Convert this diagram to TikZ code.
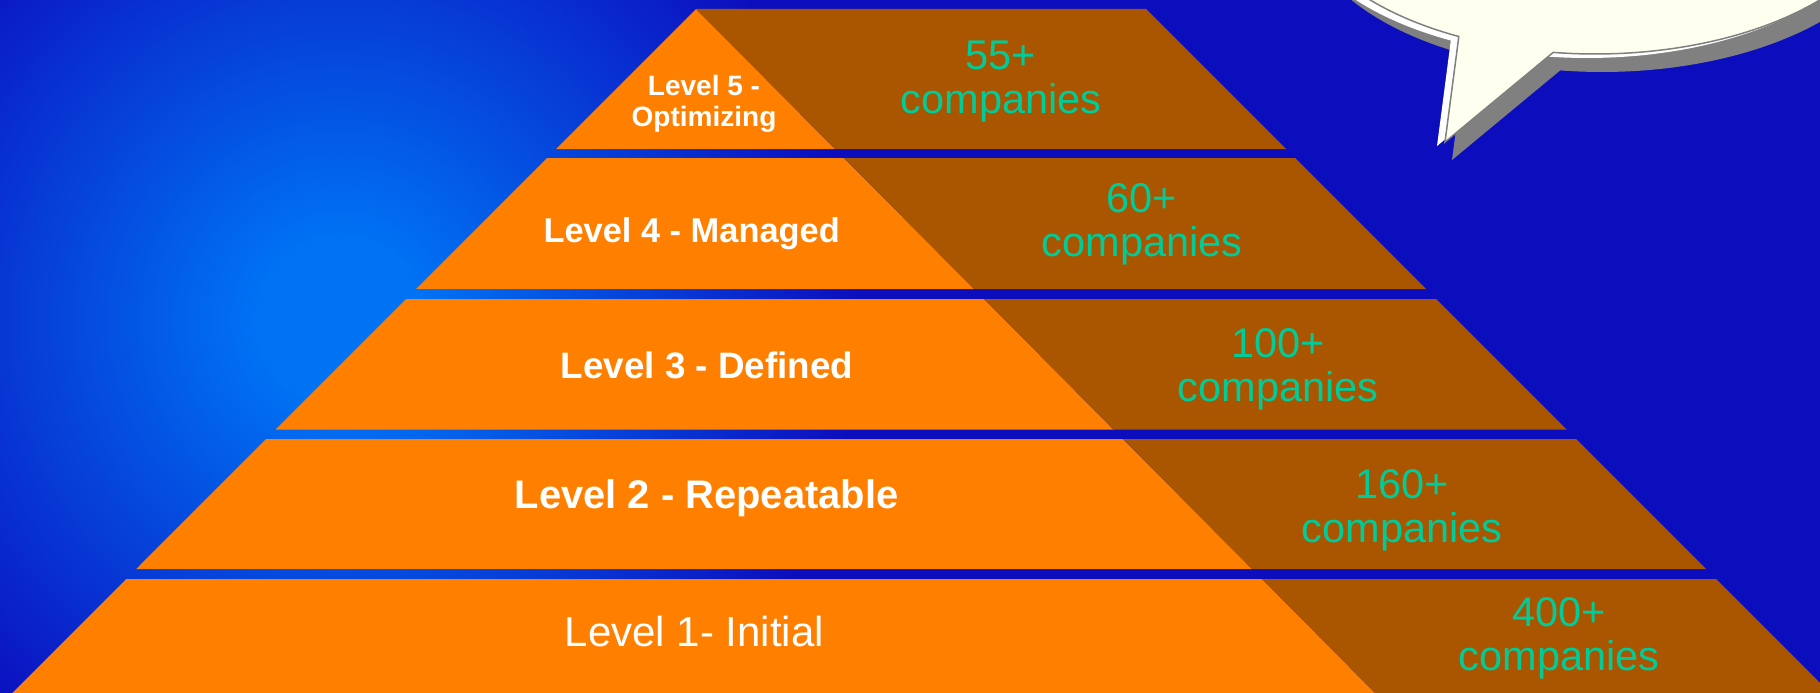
\documentclass[tikz,border=0pt]{standalone}
\usepackage{fontspec}
\setmainfont{Liberation Sans}
\definecolor{bgdark}{RGB}{12,14,190}
\definecolor{bgglow}{RGB}{0,114,244}
\definecolor{cmmorange}{RGB}{255,128,0}
\definecolor{cmmbrown}{RGB}{170,85,0}
\definecolor{cmmgreen}{RGB}{0,204,153}
\definecolor{bubblefill}{RGB}{255,255,240}
\definecolor{bubbleshadow}{RGB}{128,128,128}
% soft glow: full colour in the middle, fading to the dark blue at the rim
\pgfdeclareradialshading{glow}{\pgfpoint{0bp}{0bp}}{color(0bp)=(bgglow); color(4bp)=(bgglow); color(25bp)=(bgdark); color(50bp)=(bgdark)}
\begin{document}
\begin{tikzpicture}[x=1pt,y=-1pt,
  levellabel/.style={text=white, inner sep=0pt, align=center},
  countlabel/.style={text=cmmgreen, inner sep=0pt, align=center,
    font=\fontsize{41.5}{44}\selectfont},
  calloutshape/.style={insert path={(1458.8,36.6) -- (1445,142) -- (1553.2,52.4)
    arc[start angle=98, end angle=-243, x radius=300, y radius=160] -- cycle}}]
\useasboundingbox (0,0) rectangle (1820,693);
\clip (0,0) rectangle (1820,693);

% background
\fill[bgdark] (0,0) rectangle (1820,693);
\shade[shading=glow] (340,320) ellipse [x radius=520, y radius=520];

% pyramid bands: one large pyramid cut by horizontal gaps
\begin{scope}
  \clip (0,9) rectangle (1820,149)
        (0,158) rectangle (1820,289)
        (0,299) rectangle (1820,429.5)
        (0,439) rectangle (1820,569)
        (0,579) rectangle (1820,700);
  \fill[cmmorange] (696,9) -- (5.3,700) -- (1382,700) -- cycle;
  \fill[cmmbrown] (696,9) -- (1382,700) -- (1837,700) -- (1146,9) -- cycle;
\end{scope}

% speech bubble in the upper right
\fill[bubbleshadow, shift={(7,18)}, calloutshape];
\fill[white, shift={(-8,4)}, calloutshape];
\filldraw[fill=bubblefill, draw=bubbleshadow, line width=1.5pt, calloutshape];

% level names
\node[levellabel, font=\bfseries\fontsize{28}{31.7}\selectfont] (l5) at (704,103.8) {Level 5 -\\Optimizing};
\node[levellabel, font=\bfseries\fontsize{34.4}{40}\selectfont, anchor=base] (l4) at (691.7,242.7) {Level 4 - Managed};
\node[levellabel, font=\bfseries\fontsize{36.8}{42}\selectfont, anchor=base] (l3) at (707,378.3) {Level 3 - Defined};
\node[levellabel, font=\bfseries\fontsize{39.9}{46}\selectfont, anchor=base] (l2) at (706.7,508.3) {Level 2 - Repeatable};
\node[levellabel, font=\fontsize{42}{48}\selectfont, anchor=base] (l1) at (694.5,646.7) {Level 1- Initial};

% company counts
\node[countlabel] (c5) at (1001,81.5) {55+\\companies};
\node[countlabel] (c4) at (1142,223.9) {60+\\companies};
\node[countlabel] (c3) at (1278,369.8) {100+\\companies};
\node[countlabel] (c2) at (1402,510.5) {160+\\companies};
\node[countlabel] (c1) at (1559,638.3) {400+\\companies};
\end{tikzpicture}
\end{document}
